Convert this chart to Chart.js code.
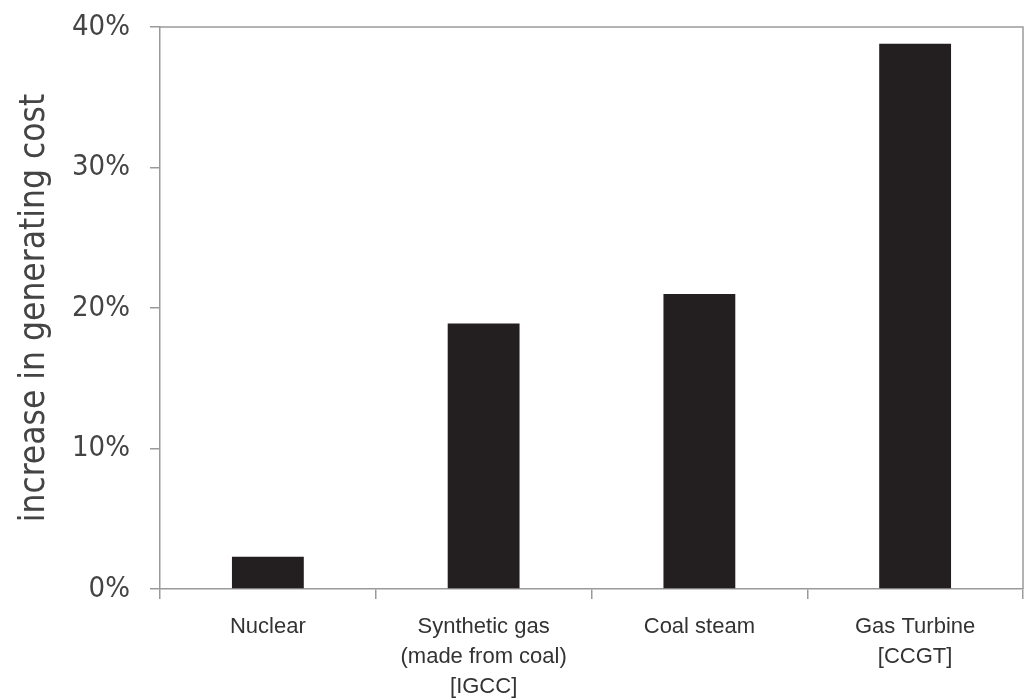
<!DOCTYPE html>
<html>
<head>
<meta charset="utf-8">
<script src="https://cdn.jsdelivr.net/npm/chart.js@4"></script>
<style>
  html, body { margin: 0; padding: 0; background: #fff; }
  #wrap { width: 1026px; height: 700px; }
</style>
</head>
<body>
<div id="wrap"><canvas id="myChart" width="1026" height="700"></canvas></div>
<script>
// categories and values
const categories = [
  ["Nuclear"],
  ["Synthetic gas", "(made from coal)", "[IGCC]"],
  ["Coal steam"],
  ["Gas Turbine", "[CCGT]"]
];
const costIncrease = [2.3, 18.9, 21.0, 38.8];
const yTicks = [0, 10, 20, 30, 40];

const NARROW = "'Liberation Sans Narrow', 'DejaVu Sans Condensed', sans-serif";
const AXIS = "#9a9a9a";

// box line along the top and right of the plot
const frame = {
  id: "frame",
  afterDraw(chart) {
    const { ctx, chartArea: a } = chart;
    ctx.save();
    ctx.strokeStyle = AXIS;
    ctx.lineWidth = 1.5;
    ctx.beginPath();
    ctx.moveTo(a.left, a.top);
    ctx.lineTo(a.right, a.top);
    ctx.lineTo(a.right, a.bottom);
    ctx.stroke();
    ctx.restore();
  }
};

const ctx = document.getElementById("myChart").getContext("2d");
new Chart(ctx, {
  type: "bar",
  data: {
    labels: categories,
    datasets: [{
      data: costIncrease,
      backgroundColor: "#231f20",
      borderWidth: 0,
      barPercentage: 0.333,
      categoryPercentage: 1
    }]
  },
  options: {
    responsive: false,
    animation: false,
    layout: { padding: { left: 10, top: 27, right: 3, bottom: 0 } },
    plugins: { legend: { display: false }, tooltip: { enabled: false } },
    scales: {
      x: {
        grid: { drawOnChartArea: false, tickLength: 10, color: AXIS, lineWidth: 1.5 },
        border: { color: AXIS, width: 1.5 },
        ticks: {
          color: "#333",
          padding: 13,
          maxRotation: 0,
          font: { family: "'Liberation Sans', Arial, sans-serif", size: 22, lineHeight: 1.36 }
        },
        afterFit(scale) { scale.height = 111; }
      },
      y: {
        min: 0,
        max: 40,
        afterBuildTicks(scale) { scale.ticks = yTicks.map(v => ({ value: v })); },
        grid: { drawOnChartArea: false, tickLength: 10, color: AXIS, lineWidth: 1.5 },
        border: { color: AXIS, width: 1.5 },
        ticks: {
          color: "#444",
          padding: 20,
          font: { family: NARROW, size: 29 },
          callback: v => v + "%"
        },
        title: {
          display: true,
          text: "increase in generating cost",
          color: "#444",
          padding: { top: 4, bottom: 0 },
          font: { family: NARROW, size: 35 }
        },
        afterFit(scale) {
          scale.width = 150;
          scale.paddingTop = 0;
          scale.paddingBottom = 0;
        }
      }
    }
  },
  plugins: [frame]
});
</script>
</body>
</html>
